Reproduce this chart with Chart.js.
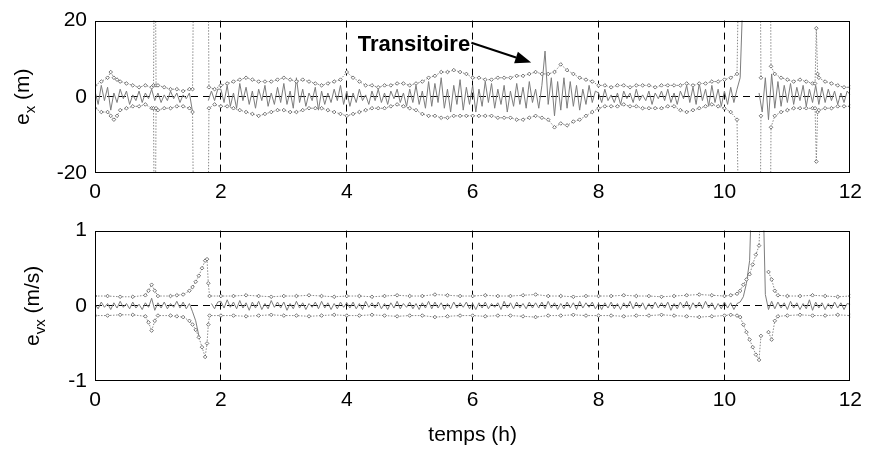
<!DOCTYPE html>
<html lang="fr">
<head>
<meta charset="UTF-8">
<title>Erreurs de position et de vitesse</title>
<script src="https://cdn.jsdelivr.net/npm/chart.js"></script>
<style>
  body { margin: 0; background: #fff; }
  #wrap { position: relative; width: 869px; height: 450px; }
  #top { position: absolute; left: 0; top: 0; }
  #bot { position: absolute; left: 0; top: 210px; }
</style>
</head>
<body>
<div id="wrap">
  <canvas id="top" width="869" height="210"></canvas>
  <canvas id="bot" width="869" height="240"></canvas>
</div>
<script>
// time grid of the error traces (h), one sample every 3 min
const tErr = Array.from({length: 241}, (_, i) => +(i * 0.05).toFixed(2));

// position error e_x (m)
const ex = [
  1.5, -2.0, 3.0, -1.0, 2.5, -3.5, 1.0, -1.5, 2.0, -0.5, 1.5, -2.0, 0.5, -1.0, 1.5, -1.5, 1.0, -0.5, 2.0, -1.0,
  1.0, -1.5, 0.5, -1.0, 1.5, -0.5, 1.0, -1.5, 0.5, -0.5, 1.0, -4.0, null, null, null, null, -1.0, 1.5, -1.0, 2.0,
  2.0, -1.5, 3.0, -2.5, 1.0, -3.0, 3.5, -1.0, 2.5, -2.0, 1.5, -3.0, 2.0, -1.0, 3.0, -2.5, 1.0, -2.0, 2.5, -1.5,
  3.5, -2.0, 1.5, -3.0, 5.0, -1.5, 2.0, -2.5, 1.0, -1.0, 2.5, -3.5, 1.5, -2.0, 1.0, -1.5, 2.0, -1.0, 3.0, -2.0,
  1.5, -2.5, 1.0, -1.5, 2.0, -1.0, 0.5, -2.0, 1.5, -1.0, 2.0, -1.5, 1.0, -2.0, 1.5, -0.5, 2.0, -1.5, 1.0, -2.5,
  2.0, -1.5, 3.0, -2.0, 1.5, -3.0, 4.0, -2.5, 3.5, -1.5, 5.0, -3.0, 2.0, -4.0, 3.0, -2.0, 4.5, -3.5, 2.5, -2.0,
  3.0, -4.0, 2.0, -2.5, 4.0, -1.5, 3.5, -3.0, 2.0, -2.0, 3.0, -4.0, 1.5, -2.5, 3.5, -2.0, 2.5, -3.0, 4.0, -1.5,
  2.0, -3.0, 3.0, 12.0, -2.0, 5.0, -5.0, 4.0, -3.5, 5.0, -3.0, 4.0, -2.5, 3.0, -3.5, 2.0, -2.0, 3.0, -1.5, 1.5,
  1.0, -1.5, 2.0, -1.0, 0.5, -1.5, 1.0, -2.0, 1.5, -0.5, 1.0, -1.5, 2.0, -1.0, 0.5, -1.0, 1.5, -2.0, 1.0, -0.5,
  1.5, -1.0, 2.0, -1.5, 1.0, -2.0, 1.5, -0.5, 3.0, -1.5, 2.5, -2.0, 3.5, -1.0, 2.0, -2.5, 3.0, -1.5, 2.0, -2.5,
  1.5, -2.0, 2.5, -1.5, 2.0, 5.0, 30.0, null, null, null, null, 1.0, -4.0, 5.0, -6.0, 6.0, -3.0, 4.0, -2.5, 3.0,
  -1.5, 3.5, -2.0, 2.5, -1.0, 3.0, -2.5, 2.0, -1.5, 3.0, -2.0, 2.5, -1.5, 2.0, -1.0, 1.5, -2.0, 1.0, -1.5, 1.5,
  0.5
];

// velocity error e_vx (m/s)
const evx = [
  0.02, -0.04, 0.05, -0.02, 0.03, -0.05, 0.04, -0.03, 0.06, -0.02, 0.03, -0.04, 0.05, -0.03, 0.02, -0.05, 0.04, -0.02, 0.10, -0.06,
  0.04, -0.03, 0.05, -0.04, 0.03, -0.02, 0.06, -0.03, 0.05, -0.04, 0.03, -0.08, -0.20, -0.40, null, null, null, 0.03, -0.04, 0.05,
  0.06, -0.03, 0.08, -0.02, 0.05, -0.04, 0.07, -0.03, 0.04, -0.06, 0.05, -0.03, 0.06, -0.05, 0.03, -0.04, 0.07, -0.02, 0.05, -0.03,
  0.05, -0.06, 0.03, -0.04, 0.06, -0.03, 0.04, -0.05, 0.03, -0.02, 0.05, -0.04, 0.06, -0.03, 0.04, -0.05, 0.03, -0.04, 0.05, -0.02,
  0.04, -0.03, 0.05, -0.04, 0.03, -0.05, 0.06, -0.02, 0.04, -0.03, 0.05, -0.04, 0.03, -0.05, 0.04, -0.03, 0.06, -0.04, 0.03, -0.02,
  0.05, -0.04, 0.03, -0.05, 0.04, -0.03, 0.06, -0.04, 0.05, -0.03, 0.04, -0.05, 0.03, -0.04, 0.05, -0.03, 0.04, -0.02, 0.05, -0.04,
  0.03, -0.05, 0.04, -0.03, 0.05, -0.04, 0.03, -0.02, 0.04, -0.05, 0.06, -0.03, 0.04, -0.04, 0.05, -0.03, 0.03, -0.04, 0.05, -0.03,
  0.04, -0.03, 0.05, -0.04, 0.06, -0.03, 0.04, -0.05, 0.03, -0.04, 0.05, -0.03, 0.04, -0.05, 0.06, -0.03, 0.04, -0.02, 0.05, -0.04,
  0.03, -0.05, 0.04, -0.03, 0.05, -0.04, 0.03, -0.05, 0.04, -0.03, 0.06, -0.04, 0.05, -0.03, 0.04, -0.05, 0.03, -0.04, 0.05, -0.03,
  0.04, -0.03, 0.05, -0.06, 0.03, -0.04, 0.05, -0.03, 0.06, -0.05, 0.04, -0.03, 0.05, -0.04, 0.06, -0.03, 0.04, -0.05, 0.03, -0.04,
  0.05, -0.03, 0.04, -0.05, 0.03, 0.05, 0.12, 0.30, 0.60, 2.00, null, null, 2.00, 0.15, -0.05, 0.06, -0.04, 0.05, -0.03, 0.04,
  -0.05, 0.06, -0.03, 0.04, -0.05, 0.03, -0.04, 0.08, -0.06, 0.05, -0.03, 0.04, -0.05, 0.03, -0.04, 0.05, -0.03, 0.04, -0.05, 0.03,
  0.02
];

// 3-sigma envelope of e_x (m)
const tBx = [
  0, 0.1, 0.2, 0.25, 0.3, 0.35, 0.4, 0.5, 0.6, 0.7, 0.8, 0.9, 0.93, 0.95, 0.97, 1.0, 1.1, 1.2, 1.3, 1.4, 1.5, 1.55, 1.58, 1.6, 1.79, 1.81,
  1.9, 2.0, 2.1, 2.2, 2.3, 2.4, 2.5, 2.6, 2.7, 2.8,
  2.9, 3.0, 3.1, 3.2, 3.3, 3.4, 3.5, 3.6, 3.7, 3.8,
  3.9, 4.0, 4.1, 4.2, 4.3, 4.4, 4.5, 4.6, 4.7, 4.8,
  4.9, 5.0, 5.1, 5.2, 5.3, 5.4, 5.5, 5.6, 5.7, 5.8,
  5.9, 6.0, 6.1, 6.2, 6.3, 6.4, 6.5, 6.6, 6.7, 6.8,
  6.9, 7.0, 7.1, 7.2, 7.3, 7.4, 7.5, 7.6, 7.7, 7.8,
  7.9, 8.0, 8.1, 8.2, 8.3, 8.4, 8.5, 8.6, 8.7, 8.8,
  8.9, 9.0, 9.1, 9.2, 9.3, 9.4, 9.5, 9.6, 9.7, 9.8,
  9.9, 10.0, 10.1, 10.2,
  10.25, 10.3, 10.56, 10.58, 10.6, 10.72, 10.74, 10.8, 10.9, 11.0, 11.1, 11.2, 11.3, 11.4, 11.44, 11.46, 11.48, 11.5, 11.6, 11.7, 11.8, 11.9, 12.0
];
const exUp = [
  3, 4, 5, 6.5, 5, 4.5, 4, 3.5, 3, 2.5, 3, 2.5, 3, 60, 3, 3, 2.5, 2, 2, 1.5, 2, 2, 60, null, 60, 2.5,
  2, 3, 3.5, 4, 4.5, 5, 4.5, 4, 4, 4,
  4.5, 5, 4.5, 4, 4.5, 4, 3.5, 3, 3.5, 4,
  4.5, 6.5, 5, 4, 3, 3, 2.5, 3, 3, 3.5,
  3.5, 3, 3.5, 4, 5, 5.5, 6.5, 6.5, 7, 6.5,
  6, 5, 5, 4.5, 4.5, 5, 5, 5, 5.5, 5.5,
  6, 6.5, 6, 6, 6.5, 8.5, 7, 6, 5, 4.5,
  4, 3, 3, 2.5, 3, 3, 2.5, 3, 3, 3,
  2.5, 3, 3, 3, 3, 3.5, 3, 3.5, 3.5, 4,
  4, 4.5, 5, 6,
  60, null, 60, 5, null, 60, 8, 6, 5, 4.5, 4, 4.5, 4, 3.5, 3.5, 18, 6, 5, 4, 3.5, 3, 2.5, 2.5
];
const exLo = [
  -3, -4, -4, -5, -6, -5, -3.5, -3, -2.5, -2.5, -2, -3, -3, -60, -3, -3.5, -3, -3, -2.5, -2.5, -3, -4, -60, null, -60, -3,
  -2, -2.5, -2.5, -3, -3.5, -4, -4.5, -5, -4.5, -4,
  -3.5, -3.5, -4, -4, -3.5, -3, -3, -3, -3.5, -4,
  -4.5, -5, -4.5, -4, -3.5, -3, -3, -3, -2.5, -2,
  -2.5, -3, -3.5, -4.5, -5, -5, -5.5, -5.5, -5, -5,
  -5, -5, -5, -5, -5, -5.5, -5.5, -5.5, -6, -6,
  -5.5, -5, -5.5, -6, -8, -7, -7.5, -6.5, -6, -5,
  -4, -3, -2.5, -2.5, -2.5, -2, -2.5, -2.5, -3, -3,
  -3, -3, -2.5, -2.5, -3.5, -4, -3.5, -3, -2.5, -2,
  -2.5, -3, -4, -6,
  -60, null, -60, -5, null, -60, -8, -5, -4, -3.5, -3, -3, -3, -3, -3, -17, -4, -3.5, -3, -3, -2.5, -2.5, -2.5
];

// 3-sigma envelope of e_vx (m/s)
const tBv = [
  0, 0.2, 0.4, 0.6, 0.8, 0.85, 0.9, 0.95, 1.0, 1.2, 1.3, 1.4, 1.5, 1.55, 1.6, 1.65, 1.7, 1.75, 1.78, 1.8, 1.82, 2.0,
  2.2, 2.4, 2.6, 2.8, 3.0, 3.2, 3.4, 3.6, 3.8, 4.0,
  4.2, 4.4, 4.6, 4.8, 5.0, 5.2, 5.4, 5.6, 5.8, 6.0,
  6.2, 6.4, 6.6, 6.8, 7.0, 7.2, 7.4, 7.6, 7.8, 8.0,
  8.2, 8.4, 8.6, 8.8, 9.0, 9.2, 9.4, 9.6, 9.8, 10.0,
  10.1, 10.2, 10.25, 10.3, 10.35, 10.4, 10.45, 10.5, 10.55, 10.58, 10.6, 10.7, 10.75, 10.8, 10.85, 11.0, 11.2, 11.4, 11.6, 11.8, 12.0
];
const evUp = [
  0.13, 0.13, 0.12, 0.12, 0.14, 0.2, 0.28, 0.2, 0.13, 0.13, 0.14, 0.15, 0.2, 0.25, 0.32, 0.4, 0.5, 0.6, 0.62, 0.3, 0.13, 0.13,
  0.13, 0.14, 0.13, 0.12, 0.13, 0.13, 0.14, 0.13, 0.12, 0.13,
  0.13, 0.12, 0.13, 0.14, 0.13, 0.13, 0.15, 0.14, 0.13, 0.13,
  0.14, 0.13, 0.13, 0.14, 0.15, 0.13, 0.13, 0.12, 0.13, 0.13,
  0.13, 0.14, 0.13, 0.13, 0.12, 0.13, 0.14, 0.15, 0.14, 0.13,
  0.14, 0.16, 0.2, 0.28, 0.35, 0.42, 0.55, 0.68, 0.8, 1.5, null, 0.45, 0.35, 0.2, 0.14, 0.13, 0.13, 0.14, 0.13, 0.12, 0.13
];
const evLo = [
  -0.13, -0.13, -0.12, -0.12, -0.14, -0.22, -0.33, -0.2, -0.13, -0.13, -0.14, -0.15, -0.2, -0.25, -0.32, -0.42, -0.55, -0.68, -0.5, -0.25, -0.13, -0.13,
  -0.13, -0.14, -0.13, -0.12, -0.13, -0.13, -0.14, -0.13, -0.12, -0.13,
  -0.13, -0.12, -0.13, -0.14, -0.13, -0.13, -0.15, -0.14, -0.13, -0.13,
  -0.14, -0.13, -0.13, -0.14, -0.15, -0.13, -0.13, -0.12, -0.13, -0.13,
  -0.13, -0.14, -0.13, -0.13, -0.12, -0.13, -0.14, -0.15, -0.14, -0.13,
  -0.12, -0.13, -0.15, -0.25, -0.35, -0.45, -0.55, -0.65, -0.72, -0.4, null, -0.35, -0.45, -0.2, -0.14, -0.13, -0.12, -0.13, -0.13, -0.12, -0.13
];

const xTicks = [0, 2, 4, 6, 8, 10, 12];
const exTicks = [-20, 0, 20];
const evTicks = [-1, 0, 1];

const FONT = "'Liberation Sans', Arial, Helvetica, sans-serif";

function pts(t, y) {
  return t.map((x, i) => ({x: x, y: y[i]}));
}

function errSet(t, y) {
  return {
    data: pts(t, y), borderColor: '#7d7d7d', borderWidth: 1,
    pointRadius: 0, spanGaps: false, order: 2
  };
}

function boundSet(t, y) {
  return {
    data: pts(t, y), borderColor: '#8a8a8a', borderWidth: 1, borderDash: [1.5, 1.5],
    pointStyle: 'rectRot', pointRadius: 1.8, pointBorderWidth: 0.8,
    pointBorderColor: '#555', pointBackgroundColor: '#fff',
    spanGaps: false, order: 1
  };
}

// only inner grid lines; the box is drawn by the plugin
function innerGrid(ticks) {
  return c => (c.tick && (c.tick.value === ticks[0] || c.tick.value === ticks[ticks.length - 1])) ? 'rgba(0,0,0,0)' : '#000';
}

// frame, y title with subscript, optional annotation
const decor = {
  id: 'decor',
  afterDraw(chart, args, o) {
    const {ctx, chartArea: a, scales} = chart;
    ctx.save();
    ctx.strokeStyle = '#000';
    ctx.lineWidth = 1;
    ctx.setLineDash([]);
    const l = Math.round(a.left) + 0.5, r = Math.round(a.right) - 0.5;
    const t = Math.round(a.top) + 0.5, b = Math.round(a.bottom) - 0.5;
    ctx.strokeRect(l, t, r - l, b - t);

    // y axis title, rotated
    ctx.save();
    ctx.translate(o.titleX, (a.top + a.bottom) / 2);
    ctx.rotate(-Math.PI / 2);
    ctx.fillStyle = '#000';
    ctx.textBaseline = 'alphabetic';
    ctx.textAlign = 'left';
    const big = '21px ' + FONT, small = '15px ' + FONT;
    ctx.font = big;
    const w1 = ctx.measureText('e').width;
    const w3 = ctx.measureText(o.unit).width;
    ctx.font = small;
    const w2 = ctx.measureText(o.sub).width;
    let x = -(w1 + w2 + w3) / 2;
    ctx.font = big;
    ctx.fillText('e', x, 0);
    x += w1;
    ctx.font = small;
    ctx.fillText(o.sub, x, 6);
    x += w2;
    ctx.font = big;
    ctx.fillText(o.unit, x, 0);
    ctx.restore();

    if (o.note) {
      const n = o.note;
      const sx = scales.x, sy = scales.y;
      ctx.font = 'bold 22px ' + FONT;
      ctx.fillStyle = '#000';
      ctx.textAlign = 'right';
      ctx.textBaseline = 'middle';
      ctx.fillText(n.text, sx.getPixelForValue(n.at[0]), sy.getPixelForValue(n.at[1]));
      const x0 = sx.getPixelForValue(n.from[0]), y0 = sy.getPixelForValue(n.from[1]);
      const x1 = sx.getPixelForValue(n.to[0]), y1 = sy.getPixelForValue(n.to[1]);
      const ang = Math.atan2(y1 - y0, x1 - x0);
      const hl = 16, hw = 6;
      const bx = x1 - hl * Math.cos(ang), by = y1 - hl * Math.sin(ang);
      ctx.lineWidth = 2;
      ctx.beginPath();
      ctx.moveTo(x0, y0);
      ctx.lineTo(bx, by);
      ctx.stroke();
      ctx.beginPath();
      ctx.moveTo(x1, y1);
      ctx.lineTo(bx + hw * Math.sin(ang), by - hw * Math.cos(ang));
      ctx.lineTo(bx - hw * Math.sin(ang), by + hw * Math.cos(ang));
      ctx.closePath();
      ctx.fill();
    }
    ctx.restore();
  }
};

function makeChart(id, datasets, yTicks, axisH, padTop, title, plug) {
  return new Chart(document.getElementById(id), {
    type: 'line',
    data: {datasets: datasets},
    plugins: [decor],
    options: {
      responsive: false,
      animation: false,
      devicePixelRatio: 1,
      layout: {padding: {top: padTop, right: 15, left: 0, bottom: 0}},
      plugins: {legend: {display: false}, tooltip: {enabled: false}, decor: plug},
      scales: {
        x: {
          type: 'linear', min: 0, max: 12,
          afterBuildTicks: s => { s.ticks = xTicks.map(v => ({value: v})); },
          afterFit: s => { s.height = axisH; },
          ticks: {color: '#000', font: {family: FONT, size: 21}, padding: 7, maxRotation: 0},
          grid: {color: innerGrid(xTicks), lineWidth: 1, drawTicks: false},
          border: {display: false, dash: [7, 5]},
          title: title ? {display: true, text: title, color: '#000', font: {family: FONT, size: 21}, padding: {top: 0, bottom: 2}} : {display: false}
        },
        y: {
          min: yTicks[0], max: yTicks[yTicks.length - 1],
          afterBuildTicks: s => { s.ticks = yTicks.map(v => ({value: v})); },
          afterFit: s => { s.width = 95; },
          ticks: {color: '#000', font: {family: FONT, size: 21}, padding: 8},
          grid: {color: innerGrid(yTicks), lineWidth: 1, drawTicks: false},
          border: {display: false, dash: [7, 5]}
        }
      }
    }
  });
}

makeChart('top',
  [errSet(tErr, ex), boundSet(tBx, exUp), boundSet(tBx, exLo)],
  exTicks, 37, 18, null,
  {titleX: 29, sub: 'x', unit: ' (m)',
   note: {text: 'Transitoire', at: [5.96, 13.7], from: [5.98, 14.2], to: [6.93, 9.0]}});

makeChart('bot',
  [errSet(tErr, evx), boundSet(tBv, evUp), boundSet(tBv, evLo)],
  evTicks, 69, 16, 'temps (h)',
  {titleX: 39, sub: 'vx', unit: ' (m/s)'});
</script>
</body>
</html>
